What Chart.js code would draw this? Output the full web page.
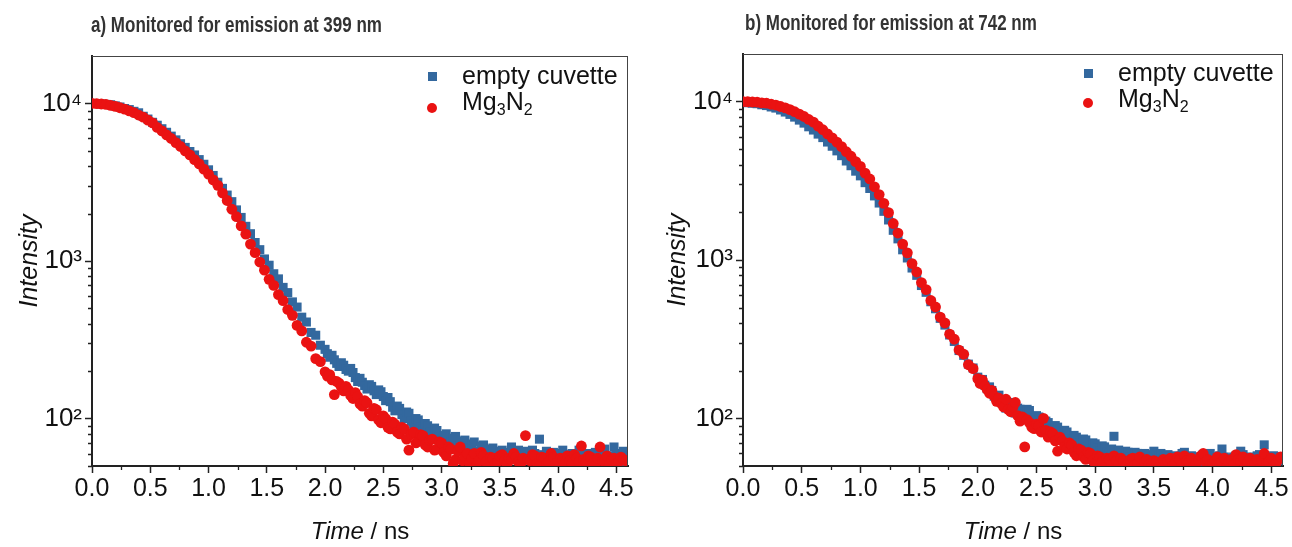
<!DOCTYPE html>
<html><head><meta charset="utf-8">
<script src="https://cdn.jsdelivr.net/npm/chart.js@4.4.1/dist/chart.umd.min.js"></script>
<style>
body{margin:0;background:#fff;width:1292px;height:547px;overflow:hidden;position:relative;font-family:'Liberation Sans',Arial,sans-serif;}
canvas{position:absolute;top:0;}
.title{position:absolute;font-weight:bold;font-size:17px;color:#333;white-space:nowrap;line-height:20px;transform:scaleY(1.3);transform-origin:0 0;}
.xt{position:absolute;font-size:24px;color:#111;white-space:nowrap;transform:translateX(-50%);line-height:26px;}
.lt{position:absolute;font-size:25px;color:#111;white-space:nowrap;line-height:28px;}
.lt sub{font-size:16px;vertical-align:-5px;line-height:0;}
.sq{position:absolute;width:9px;height:9px;background:#33689e;}
.ci{position:absolute;width:10px;height:10px;border-radius:50%;background:#ea1212;}
</style></head>
<body>
<canvas id="c1" width="640" height="547" style="left:0"></canvas>
<canvas id="c2" width="652" height="547" style="left:640px"></canvas>

<div class="title" style="left:91px;top:12px">a) Monitored for emission at 399 nm</div>
<div class="title" style="left:745px;top:10px">b) Monitored for emission at 742 nm</div>

<div class="sq" style="left:428px;top:72px"></div>
<div class="lt" style="left:462px;top:61px">empty cuvette</div>
<div class="ci" style="left:427px;top:103px"></div>
<div class="lt" style="left:462px;top:87px">Mg<sub>3</sub>N<sub>2</sub></div>

<div class="sq" style="left:1084px;top:69px"></div>
<div class="lt" style="left:1118px;top:58px">empty cuvette</div>
<div class="ci" style="left:1083px;top:98px"></div>
<div class="lt" style="left:1118px;top:84px">Mg<sub>3</sub>N<sub>2</sub></div>

<div class="xt" style="left:360px;top:518px"><i>Time</i> / ns</div>
<div class="xt" style="left:1013px;top:518px"><i>Time</i> / ns</div>

<script>
// ---------- data ----------
const timeNs = [0,0.04,0.08,0.12,0.16,0.2,0.24,0.28,0.32,0.36,0.4,0.44,0.48,0.52,0.56,0.6,0.64,0.68,0.72,0.76,0.8,0.84,0.88,0.92,0.96,
1,1.04,1.08,1.12,1.16,1.2,1.24,1.28,1.32,1.36,1.4,1.44,1.48,1.52,1.56,1.6,1.64,1.68,1.72,1.76,1.8,1.84,1.88,1.92,1.96,
2,2.02,2.04,2.06,2.08,2.1,2.12,2.14,2.16,2.18,2.2,2.22,2.24,2.26,2.28,2.3,2.32,2.34,2.36,2.38,2.4,2.42,2.44,2.46,2.48,
2.5,2.52,2.54,2.56,2.58,2.6,2.62,2.64,2.66,2.68,2.7,2.72,2.74,2.76,2.78,2.8,2.82,2.84,2.86,2.88,2.9,2.92,2.94,2.96,2.98,
3,3.02,3.04,3.06,3.08,3.1,3.12,3.14,3.16,3.18,3.2,3.22,3.24,3.26,3.28,3.3,3.32,3.34,3.36,3.38,3.4,3.42,3.44,3.46,3.48,
3.5,3.52,3.54,3.56,3.58,3.6,3.62,3.64,3.66,3.68,3.7,3.72,3.74,3.76,3.78,3.8,3.82,3.84,3.86,3.88,3.9,3.92,3.94,3.96,3.98,
4,4.02,4.04,4.06,4.08,4.1,4.12,4.14,4.16,4.18,4.2,4.22,4.24,4.26,4.28,4.3,4.32,4.34,4.36,4.38,4.4,4.42,4.44,4.46,4.48,
4.5,4.52,4.54,4.56,4.58];

// a) emission at 399 nm
const emptyCuvette399 = [10000,9990,9920,9860,9810,9650,9490,9280,9140,8910,8720,8290,7960,7590,7270,6910,6560,6200,5870,5550,5260,4950,4710,4400,4110,
3790,3490,3160,2890,2620,2380,2110,1890,1660,1490,1310,1180,1030,940,830,770,680,630,550,510,440,410,352,338,292,
275,258,245,252,236,224,214,226,218,205,200,208,196,182,172,180,170,162,154,164,160,150,142,152,148,
138,130,136,128,118,112,120,116,106,100,110,108,96,92,100,98,88,86,93,90,82,79,87,84,76,
74,78,80,70,71,75,77,67,68,72,73,65,64,69,71,61,62,67,68,59,60,64,65,57,58,
62,63,55,56,61,66,58,59,63,54,60,62,56,57,63,60,55,74,59,58,62,55,57,61,54,
57,60,63,56,54,59,60,55,58,63,62,56,55,60,59,54,61,58,56,62,64,57,58,55,66,
60,57,53,62,58];
const mg3n2_399 = [10000,9980,9920,9850,9720,9580,9390,9210,8960,8740,8440,8180,7840,7530,7040,6690,6310,5990,5640,5330,5000,4720,4400,4130,3830,
3560,3270,3020,2700,2420,2130,1910,1670,1480,1280,1130,985,875,765,700,612,560,492,452,390,360,305,288,240,230,
198,186,190,176,142,172,168,158,150,160,152,140,134,146,138,124,120,130,126,108,104,116,114,98,94,
104,100,88,86,95,92,82,80,88,86,74,63,80,82,70,72,79,78,68,66,73,74,63,64,71,
70,61,58,66,64,52,55,62,66,54,57,60,52,56,60,50,54,61,58,53,49,57,56,52,53,
58,59,54,51,56,55,60,57,53,52,56,78,55,54,59,58,52,50,57,56,51,53,60,57,52,
48,56,55,52,58,54,52,59,56,53,67,55,53,58,57,52,50,56,66,54,54,58,51,55,56,
52,53,57,55,54];

// b) emission at 742 nm
const emptyCuvette742 = [9890,9850,9780,9710,9560,9450,9260,9110,8860,8600,8310,7990,7650,7320,6940,6620,6240,5930,5560,5230,4890,4560,4220,3940,3640,
3400,3080,2830,2540,2290,2030,1790,1540,1360,1160,1030,890,800,690,625,545,492,428,388,336,306,268,250,220,208,
182,172,176,162,154,158,150,138,132,140,130,122,116,126,122,112,108,116,114,106,104,114,112,100,98,
104,102,94,90,96,94,86,84,90,88,80,78,84,82,74,72,78,76,70,68,74,73,66,64,70,
69,65,62,67,66,61,60,64,77,60,63,59,58,62,61,57,56,61,60,55,55,60,59,56,57,
62,54,58,60,55,56,59,53,57,58,54,55,60,61,56,54,58,57,53,52,57,59,55,55,60,
57,55,53,58,64,57,56,53,52,57,58,55,62,59,54,56,57,53,53,58,59,55,68,57,55,
52,58,56,54,57];
const mg3n2_742 = [10000,9990,9950,9930,9830,9780,9630,9520,9320,9130,8900,8640,8350,8060,7720,7420,7010,6650,6260,5910,5550,5200,4830,4520,4180,
3900,3540,3250,2900,2590,2280,1990,1700,1480,1260,1110,950,840,720,650,555,505,436,400,340,316,270,254,218,206,
178,166,174,160,152,144,150,138,128,134,124,118,132,114,110,118,126,104,96,102,66,98,94,88,86,
92,90,82,100,84,76,82,80,72,62,76,72,66,64,70,68,61,58,64,63,57,55,61,60,54,
52,58,57,53,49,56,55,51,58,54,51,56,54,50,48,55,56,51,52,57,49,53,55,51,50,
54,53,49,48,55,51,54,56,50,52,57,55,51,58,54,53,56,49,52,54,58,60,53,55,51,
51,54,57,52,53,56,49,53,55,51,59,55,54,57,50,53,56,51,52,55,48,54,60,52,53,
56,50,52,55,57];

const seriesNames = ['empty cuvette', 'Mg\u2083N\u2082'];
const xTickValues = [0,0.5,1,1.5,2,2.5,3,3.5,4,4.5];
const xMinorValues = [0.25,0.75,1.25,1.75,2.25,2.75,3.25,3.75,4.25];
const yTickValues = [100,1000,10000];
const yTickLabels = ['10\u00B2','10\u00B3','10\u2074'];
const yMinorValues = [50,60,70,80,90,200,300,400,500,600,700,800,900,2000,3000,4000,5000,6000,7000,8000,9000];
const xRange = [0, 4.6];
const yRange = [50, 20000];

// ---------- chart ----------
Chart.defaults.font.family = "'Liberation Sans', Arial, sans-serif";
Chart.defaults.color = '#111';

const framePlugin = {
  id: 'frame',
  afterDraw(chart) {
    const {ctx, chartArea: a, scales: {x, y}} = chart;
    ctx.save();
    ctx.strokeStyle = '#444'; ctx.lineWidth = 1;
    ctx.beginPath();
    ctx.moveTo(a.left, a.top + 0.5); ctx.lineTo(a.right, a.top + 0.5);
    ctx.moveTo(a.right - 0.5, a.top); ctx.lineTo(a.right - 0.5, a.bottom);
    ctx.stroke();
    ctx.strokeStyle = '#222'; ctx.lineWidth = 1.3;
    ctx.beginPath();
    yMinorValues.forEach(v => { const p = Math.round(y.getPixelForValue(v)) + 0.5; ctx.moveTo(a.left, p); ctx.lineTo(a.left - 4, p); });
    xMinorValues.forEach(v => { const p = Math.round(x.getPixelForValue(v)) + 0.5; ctx.moveTo(p, a.bottom); ctx.lineTo(p, a.bottom + 4); });
    ctx.stroke();
    ctx.restore();
  }
};

function makeChart(id, emptyVals, mgVals, yAxisWidth, pad, yTitlePad) {
  const toPts = vals => timeNs.map((t, i) => ({x: t, y: vals[i]}));
  return new Chart(document.getElementById(id), {
    type: 'scatter',
    data: {
      datasets: [
        {label: seriesNames[0], data: toPts(emptyVals), pointStyle: 'rect', pointRadius: 6.4,
         backgroundColor: '#33689e', borderColor: '#33689e', borderWidth: 0, order: 2, clip: 0},
        {label: seriesNames[1], data: toPts(mgVals), pointStyle: 'circle', pointRadius: 5.4,
         backgroundColor: '#ea1212', borderColor: '#ea1212', borderWidth: 0, order: 1, clip: 0}
      ]
    },
    options: {
      responsive: false, animation: false, devicePixelRatio: 1,
      layout: {padding: pad},
      plugins: {legend: {display: false}, tooltip: {enabled: false}, title: {display: false}},
      scales: {
        x: {
          type: 'linear', min: xRange[0], max: xRange[1],
          afterBuildTicks: s => { s.ticks = xTickValues.map(v => ({value: v})); },
          afterFit: s => { s.height = 40; },
          ticks: {callback: v => Number(v).toFixed(1), font: {size: 25}, color: '#111', padding: 1, maxRotation: 0, autoSkip: false},
          grid: {drawOnChartArea: false, drawTicks: true, tickLength: 7, tickColor: '#222', tickWidth: 1.5},
          border: {display: true, color: '#222', width: 2}
        },
        y: {
          type: 'logarithmic', min: yRange[0], max: yRange[1],
          afterBuildTicks: s => { s.ticks = yTickValues.map(v => ({value: v})); },
          afterFit: s => { s.width = yAxisWidth; },
          ticks: {callback: (v) => yTickLabels[yTickValues.indexOf(v)], font: {size: 26}, color: '#111', padding: 3, autoSkip: false},
          grid: {drawOnChartArea: false, drawTicks: true, tickLength: 7, tickColor: '#222', tickWidth: 1.5},
          border: {display: true, color: '#222', width: 2},
          title: {display: true, text: 'Intensity', font: {size: 25, style: 'italic'}, color: '#111', padding: {top: yTitlePad, bottom: 0}}
        }
      }
    },
    plugins: [framePlugin]
  });
}

makeChart('c1', emptyCuvette399, mg3n2_399, 92, {left: 0, top: 56, right: 12, bottom: 41}, 15);
makeChart('c2', emptyCuvette742, mg3n2_742, 103, {left: 0, top: 54, right: 9, bottom: 41}, 23);
</script>
</body></html>
